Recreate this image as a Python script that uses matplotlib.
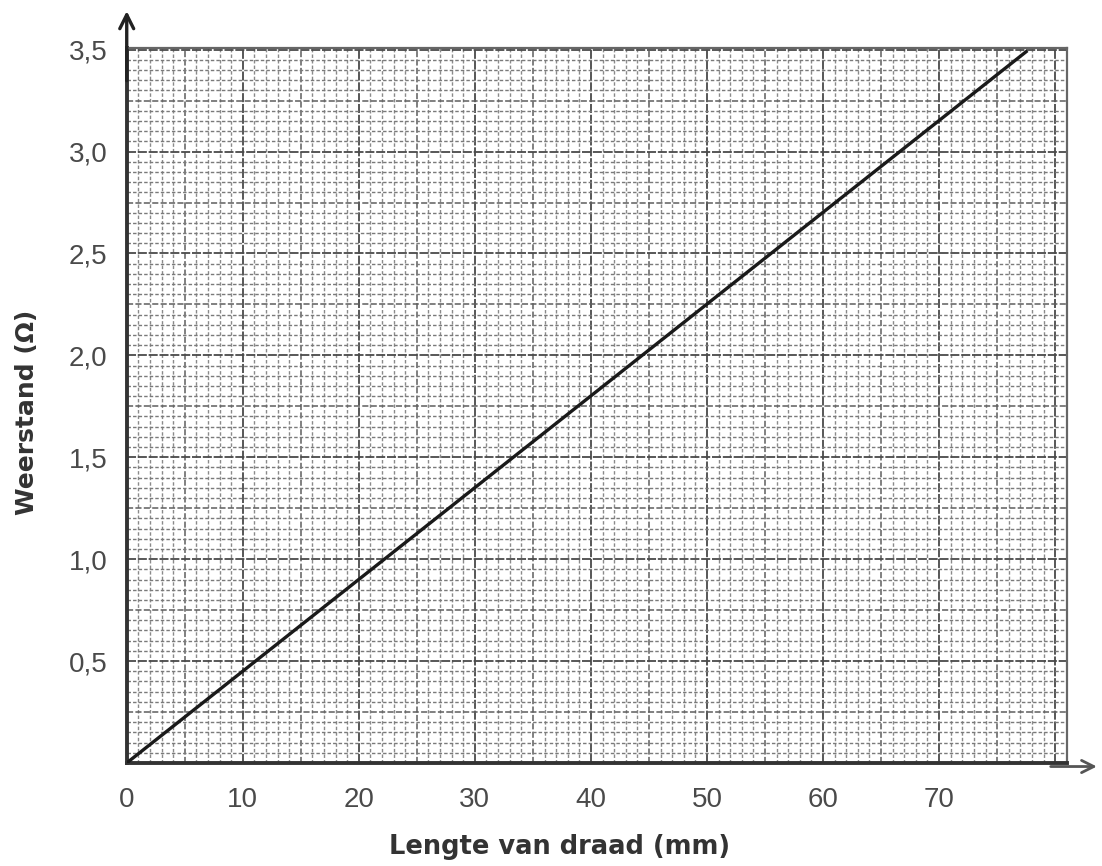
import numpy as np
import matplotlib.pyplot as plt

# data
length_mm = [0, 77.5]
resistance = [0, 3.49]

x_ticks = [0, 10, 20, 30, 40, 50, 60, 70]
x_labels = ["0", "10", "20", "30", "40", "50", "60", "70"]
y_ticks = [0.5, 1.0, 1.5, 2.0, 2.5, 3.0, 3.5]
y_labels = ["0,5", "1,0", "1,5", "2,0", "2,5", "3,0", "3,5"]

plt.rcParams['font.family'] = ['Liberation Sans', 'DejaVu Sans']

fig = plt.figure(figsize=(11.02, 8.66), dpi=100)
ax = fig.add_axes([0.115, 0.119, 0.853, 0.826])
ax.set_xlim(0, 81)
ax.set_ylim(0, 3.51)

# graph paper
for xv in np.arange(1, 81, 1):
    if xv % 10 == 0:
        ax.axvline(xv, color="#4a4a4a", lw=1.3, ls=(0, (5, 1)), zorder=1)
    elif xv % 5 == 0:
        ax.axvline(xv, color="#5e5e5e", lw=1.1, ls=(0, (4, 1.5)), zorder=1)
    else:
        ax.axvline(xv, color="#8a8a8a", lw=1.0, ls=(0, (2.5, 1.5)), zorder=1)
for yv in np.arange(1, 71, 1):
    yy = yv * 0.05
    if yv % 10 == 0:
        ax.axhline(yy, color="#4a4a4a", lw=1.3, ls=(0, (5, 1)), zorder=1)
    elif yv % 5 == 0:
        ax.axhline(yy, color="#5e5e5e", lw=1.1, ls=(0, (4, 1.5)), zorder=1)
    else:
        ax.axhline(yy, color="#7a7a7a", lw=1.0, ls=(0, (2.5, 1.5)), zorder=1)

ax.plot(length_mm, resistance, color="#1a1a1a", lw=2.4, zorder=3)

for s in ["top", "right"]:
    ax.spines[s].set_color("#666666")
    ax.spines[s].set_linewidth(1.6)
for s in ["left", "bottom"]:
    ax.spines[s].set_color("#333333")
    ax.spines[s].set_linewidth(2.8)

# axis arrows
ax.annotate("", xy=(0, 1.055), xytext=(0, 0.95), xycoords="axes fraction",
            arrowprops=dict(arrowstyle="->", color="#222222", lw=2.4, mutation_scale=25),
            annotation_clip=False)
ax.annotate("", xy=(1.035, -0.005), xytext=(0.98, -0.005), xycoords="axes fraction",
            arrowprops=dict(arrowstyle="->", color="#555555", lw=2, mutation_scale=22),
            annotation_clip=False)

ax.set_xticks(x_ticks)
ax.set_xticklabels(x_labels)
ax.set_yticks(y_ticks)
ax.set_yticklabels(y_labels)
ax.tick_params(length=0, labelsize=20, colors="#4a4a4a")
ax.tick_params(axis="x", pad=17)
ax.tick_params(axis="y", pad=14)

ax.set_xlabel("Lengte van draad (mm)", fontsize=18.5, fontweight="bold", color="#333333",
              family="DejaVu Sans")
ax.xaxis.set_label_coords(0.46, -0.1)
ax.set_ylabel("Weerstand (Ω)", fontsize=18, fontweight="bold", color="#333333",
              family="DejaVu Sans")
ax.yaxis.set_label_coords(-0.093, 0.49)

plt.savefig("out.png", dpi=100)
